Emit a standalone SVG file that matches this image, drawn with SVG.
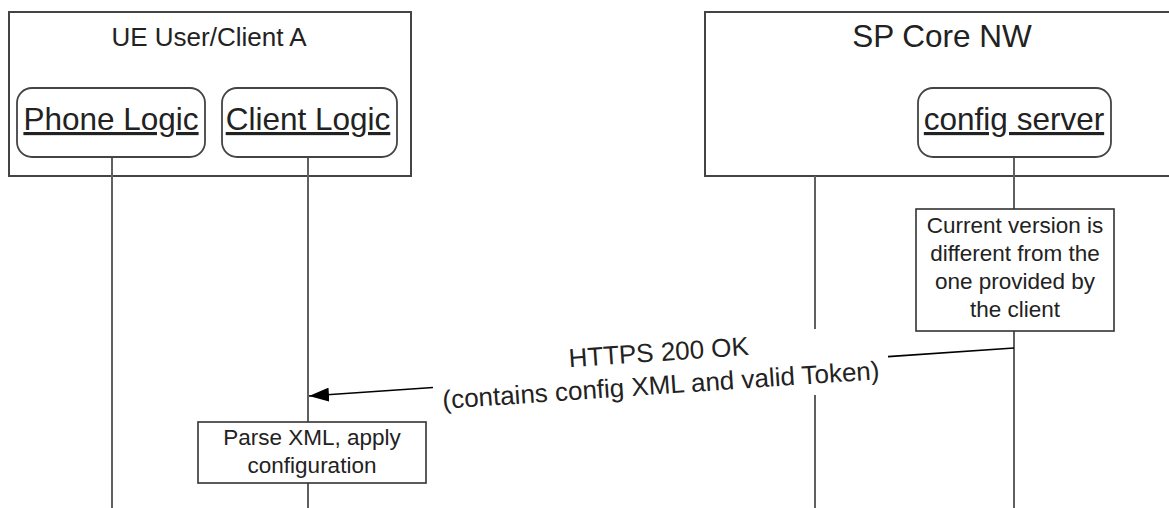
<svg xmlns="http://www.w3.org/2000/svg" width="1169" height="508" viewBox="0 0 1169 508">
  <defs>
    <style>
      text { font-family: "Liberation Sans", Arial, sans-serif; fill: #222222; }
      .container { fill: #ffffff; stroke: #444444; stroke-width: 2; }
      .obj { fill: #ffffff; stroke: #444444; stroke-width: 1.8; }
      .note { fill: #ffffff; stroke: #333333; stroke-width: 1.6; }
      .life { stroke: #606060; stroke-width: 2; fill: none; }
      .msg { stroke: #000000; stroke-width: 1.6; fill: none; }
      .objtext { font-size: 31.5px; text-anchor: middle; text-decoration: underline; }
      .notetext { font-size: 22.5px; text-anchor: middle; }
      .msgtext { font-size: 26px; text-anchor: middle; }
    </style>
    <marker id="arrowhead" viewBox="0 0 20 14" refX="20" refY="7" markerWidth="20" markerHeight="14" markerUnits="userSpaceOnUse" orient="auto">
      <path d="M0,0 L20,7 L0,14 Z" fill="#000000"/>
    </marker>
  </defs>

  <g id="container-ue">
    <rect class="container" x="9" y="12" width="402" height="164"/>
    <text x="209" y="46" font-size="26" text-anchor="middle">UE User/Client A</text>
  </g>

  <g id="container-sp">
    <rect class="container" x="705" y="12" width="480" height="164"/>
    <text x="942" y="47" font-size="31.5" text-anchor="middle">SP Core NW</text>
  </g>

  <g id="connectors">
    <line class="life" x1="112" y1="157" x2="112" y2="508"/>
    <line class="life" x1="308" y1="157" x2="308" y2="508"/>
    <line class="life" x1="815" y1="176" x2="815" y2="329"/>
    <line class="life" x1="815" y1="395" x2="815" y2="508"/>
    <line class="life" x1="1014" y1="157" x2="1014" y2="508"/>
    <line class="msg" x1="1014" y1="348" x2="888" y2="356.6"/>
    <line class="msg" x1="433" y1="387.5" x2="309" y2="396" marker-end="url(#arrowhead)"/>
  </g>

  <g id="phone-logic">
    <rect class="obj" x="17" y="88" width="188" height="69" rx="15" ry="15"/>
    <text class="objtext" x="111" y="130">Phone Logic</text>
  </g>

  <g id="client-logic">
    <rect class="obj" x="222" y="88" width="175" height="69" rx="15" ry="15"/>
    <text class="objtext" x="308" y="130">Client Logic</text>
  </g>

  <g id="config-server">
    <rect class="obj" x="918" y="88" width="193" height="69" rx="15" ry="15"/>
    <text class="objtext" x="1014" y="130">config server</text>
  </g>

  <g id="note-version">
    <rect class="note" x="916" y="209" width="198" height="122"/>
    <text class="notetext" x="1015" y="233">Current version is</text>
    <text class="notetext" x="1015" y="261">different from the</text>
    <text class="notetext" x="1015" y="289">one provided by</text>
    <text class="notetext" x="1015" y="317">the client</text>
  </g>

  <g id="msg-label" transform="rotate(-3.89 660 372)">
    <text class="msgtext" x="660" y="361">HTTPS 200 OK</text>
    <text class="msgtext" x="660" y="394">(contains config XML and valid Token)</text>
  </g>

  <g id="note-parse">
    <rect class="note" x="198" y="422" width="228" height="61"/>
    <text class="notetext" x="312" y="445">Parse XML, apply</text>
    <text class="notetext" x="312" y="473">configuration</text>
  </g>
</svg>
